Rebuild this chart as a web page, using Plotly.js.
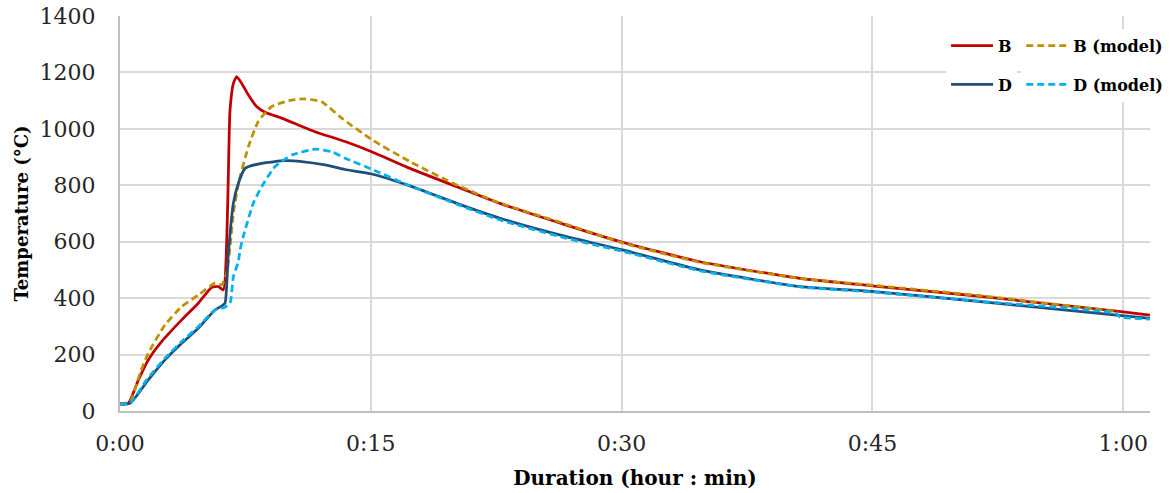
<!DOCTYPE html>
<html>
<head>
<meta charset="utf-8">
<script src="https://cdn.plot.ly/plotly-3.0.1.min.js"></script>
<style>html,body{margin:0;padding:0;background:#fff;}#chart{width:1170px;height:493px;}</style>
</head>
<body>
<div id="chart"></div>
<script>
// Time in minutes
const tB  = [0, 0.5, 1.1, 1.69, 2.49, 3.69, 4.68, 5.48, 5.88, 6.18, 6.58, 6.78, 6.98, 7.28, 7.68, 8.17, 8.67, 9.67, 10.66, 11.66, 13.46, 15.05, 17.34, 20.14, 22.73, 26.7, 30.05, 34.69, 40.67, 45.1, 51.6, 59.6, 61.6];
const vB  = [25, 27, 110, 181, 246, 323, 382, 438, 441, 429, 1067, 1161, 1185, 1161, 1120, 1079, 1059, 1038, 1014, 990, 955, 919, 860, 795, 736, 659, 598, 529, 470, 443, 405, 354, 340];

const tBm = [0, 0.6, 1.2, 1.69, 2.69, 3.69, 4.68, 5.68, 6.08, 6.38, 6.58, 6.78, 7.1, 7.68, 8.27, 9.07, 10.27, 11.06, 12.06, 13.26, 15.1, 17.34, 20.14, 22.73, 26.7, 30.05, 34.69, 40.67, 45.1, 51.6, 59.7];
const vBm = [25, 33, 134, 205, 305, 370, 411, 453, 447, 488, 582, 701, 810, 937, 1026, 1079, 1102, 1106, 1096, 1038, 960, 884, 801, 737, 662, 596, 527, 470, 445, 408, 352];

const tD  = [0, 0.6, 1.69, 2.69, 3.69, 4.68, 5.68, 6.08, 6.28, 6.48, 6.78, 7.08, 7.48, 8.47, 9.87, 10.87, 12.26, 13.46, 15.05, 17.34, 20.14, 22.73, 26.7, 30.05, 34.69, 40.67, 45.1, 51.6, 59.6, 61.6];
const vD  = [25, 27, 110, 181, 240, 293, 358, 372, 382, 559, 736, 807, 860, 878, 887, 884, 872, 856, 840, 798, 736, 683, 618, 571, 500, 441, 423, 387, 340, 328];

const tDm = [0, 0.6, 1.59, 2.69, 3.69, 4.68, 5.68, 6.28, 6.58, 6.78, 7.08, 7.18, 7.37, 7.97, 8.47, 9.27, 10.27, 11.66, 12.66, 13.46, 15.05, 17.34, 20.14, 22.73, 26.7, 30.05, 34.69, 40.67, 45.1, 51.6, 59.6, 59.8, 61.6];
const vDm = [25, 27, 110, 187, 246, 299, 358, 368, 382, 476, 530, 571, 618, 736, 795, 866, 907, 928, 919, 896, 857, 798, 733, 677, 612, 566, 497, 440, 421, 388, 345, 333, 326];

const xTickVals = [0, 15, 30, 45, 60];
const xTickText = ['0:00', '0:15', '0:30', '0:45', '1:00'];
const seriesNames = ['B', 'B (model)', 'D', 'D (model)'];

const FONT = 'DejaVu Serif, Liberation Serif, serif';

const traces = [
  {x: tB, y: vB, name: seriesNames[0], legend: 'legend', legendgroup: 'g1', line: {color: '#C00000', width: 2.75, shape: 'spline', smoothing: 0.5}},
  {x: tBm, y: vBm, name: seriesNames[1], legend: 'legend2', legendgroup: 'g2', line: {color: '#BF9000', width: 2.75, dash: '7px,4px', shape: 'spline', smoothing: 0.5}},
  {x: tD, y: vD, name: seriesNames[2], legend: 'legend', legendgroup: 'g3', line: {color: '#1F4E79', width: 2.75, shape: 'spline', smoothing: 0.5}},
  {x: tDm, y: vDm, name: seriesNames[3], legend: 'legend2', legendgroup: 'g4', line: {color: '#00B0F0', width: 2.75, dash: '7px,4px', shape: 'spline', smoothing: 0.5}}
].map(t => Object.assign({type: 'scatter', mode: 'lines', hoverinfo: 'skip'}, t));

const legendBase = {
  font: {family: FONT, size: 16, color: '#000', weight: 'bold'},
  bgcolor: '#ffffff', borderwidth: 0, itemwidth: 42,
  traceorder: 'grouped', tracegroupgap: 15,
  xanchor: 'left', yanchor: 'top', y: 0.968
};

const layout = {
  width: 1170, height: 493,
  margin: {l: 120, r: 20, t: 16, b: 82, autoexpand: false},
  paper_bgcolor: '#fff', plot_bgcolor: '#fff',
  showlegend: true,
  legend: Object.assign({}, legendBase, {x: 0.802}),
  legend2: Object.assign({}, legendBase, {x: 0.875}),
  xaxis: {
    range: [0, 61.6], tickvals: xTickVals, ticktext: xTickText,
    showgrid: true, gridcolor: '#d9d9d9', gridwidth: 2,
    showline: true, linecolor: '#bfbfbf', linewidth: 2,
    zeroline: false, ticks: '', ticklabelstandoff: 12,
    tickfont: {family: FONT, size: 22, color: '#262626'},
    title: {text: 'Duration (hour : min)', font: {family: FONT, size: 20, color: '#000', weight: 'bold'}, standoff: 16}
  },
  yaxis: {
    range: [0, 1400], dtick: 200, tick0: 0,
    showgrid: true, gridcolor: '#d9d9d9', gridwidth: 2,
    showline: true, linecolor: '#bfbfbf', linewidth: 2,
    zeroline: false, ticks: '', ticklabelstandoff: 18,
    tickfont: {family: FONT, size: 22, color: '#262626'},
    title: {text: 'Temperature (°C)', font: {family: FONT, size: 18, color: '#000', weight: 'bold'}, standoff: 6}
  }
};

Plotly.newPlot('chart', traces, layout, {displayModeBar: false, staticPlot: true});
</script>
</body>
</html>
